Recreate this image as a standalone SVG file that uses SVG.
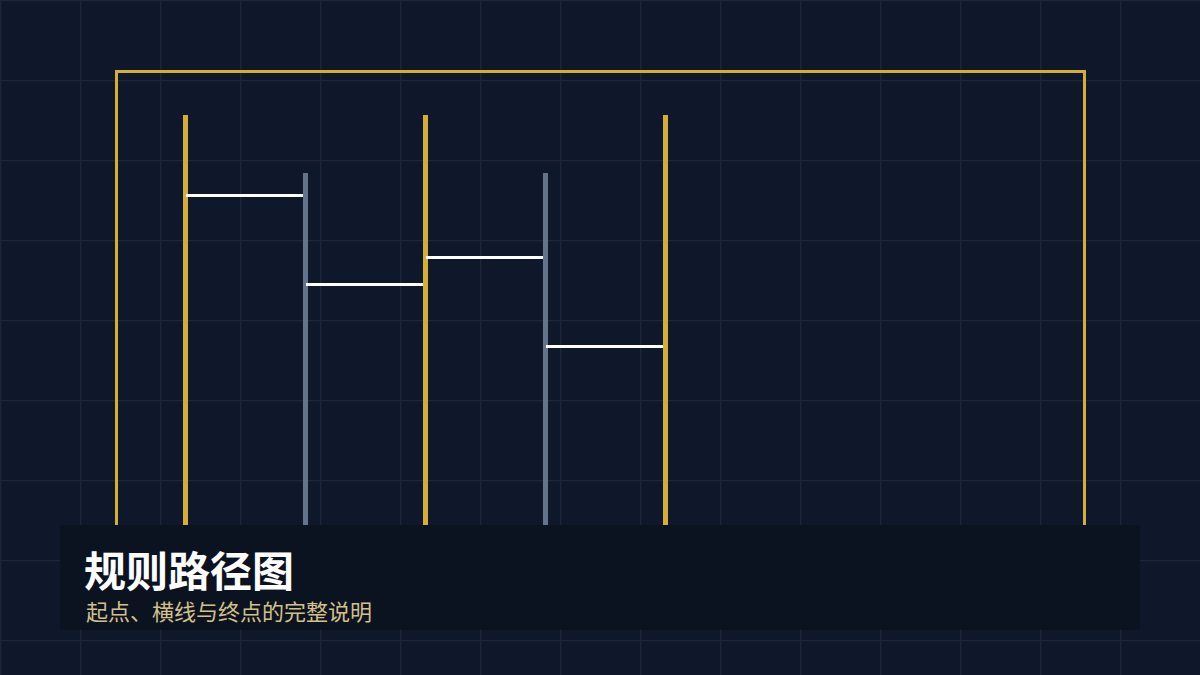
<svg xmlns="http://www.w3.org/2000/svg" width="1200" height="675" viewBox="0 0 1200 675">
  <defs>
    <pattern id="grid" x="0" y="0" width="80" height="80" patternUnits="userSpaceOnUse">
      <path d="M0.5 0 V80 M0 0.5 H80" fill="none" stroke="#1e2638" stroke-width="1.5"/>
    </pattern>
    <style>
      .frame { fill: none; stroke: #d4af37; stroke-width: 3; }
      .start { stroke: #d4af37; stroke-width: 5; }
      .mid { stroke: #64748b; stroke-width: 5; }
      .rung { stroke: #ffffff; stroke-width: 3.2; }
      .title { font-family: "Noto Sans CJK SC", "Noto Sans", sans-serif; font-weight: 700; font-size: 42px; fill: #ffffff; }
      .sub { font-family: "Noto Sans CJK SC", "Noto Sans", sans-serif; font-size: 22px; fill: #d4c08a; }
    </style>
  </defs>
  <rect width="1200" height="675" fill="#0f172a"/>
  <rect width="1200" height="675" fill="url(#grid)"/>

  <g id="frame">
    <path class="frame" d="M116.5 560 V71.5 H1084.5 V560"/>
  </g>

  <g id="rail-1"><line class="start" x1="185.5" y1="115" x2="185.5" y2="560"/></g>
  <g id="rail-2"><line class="mid" x1="305.5" y1="173" x2="305.5" y2="560"/></g>
  <g id="rail-3"><line class="start" x1="425.5" y1="115" x2="425.5" y2="560"/></g>
  <g id="rail-4"><line class="mid" x1="545.5" y1="173" x2="545.5" y2="560"/></g>
  <g id="rail-5"><line class="start" x1="665.5" y1="115" x2="665.5" y2="560"/></g>

  <g id="connectors">
    <line class="rung" x1="186" y1="195.5" x2="303" y2="195.5"/>
    <line class="rung" x1="306" y1="284.5" x2="423" y2="284.5"/>
    <line class="rung" x1="426" y1="257.5" x2="543" y2="257.5"/>
    <line class="rung" x1="546" y1="346.5" x2="663" y2="346.5"/>
  </g>

  <g id="caption">
    <rect x="60" y="525" width="1080" height="105" fill="#0b1321"/>
    <text class="title" x="84" y="587">规则路径图</text>
    <text class="sub" x="86" y="620">起点、横线与终点的完整说明</text>
  </g>
</svg>
